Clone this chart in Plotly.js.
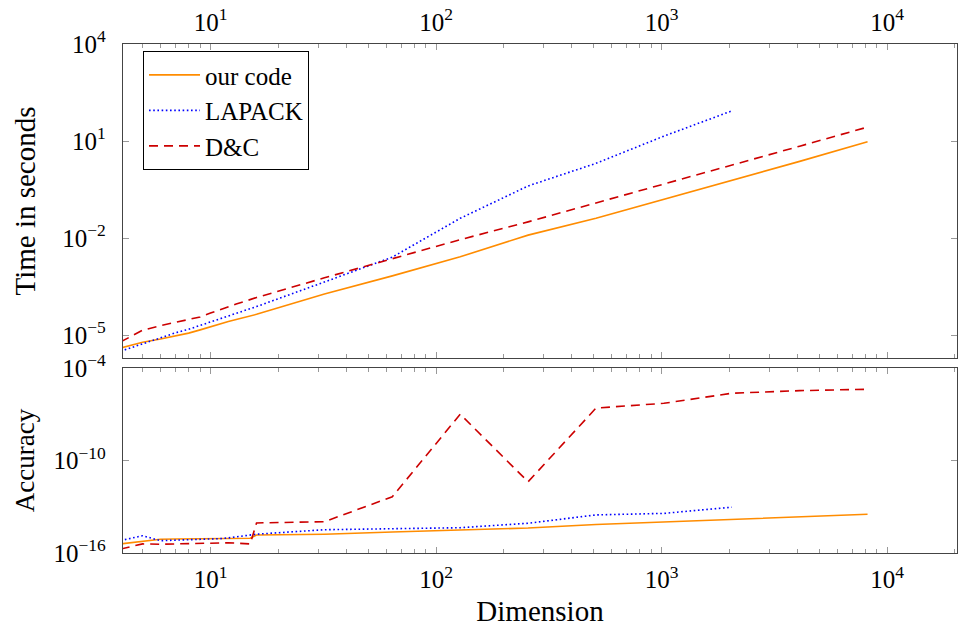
<!DOCTYPE html>
<html>
<head>
<meta charset="utf-8">
<script src="https://cdn.plot.ly/plotly-3.0.1.min.js"></script>
<style>html,body{margin:0;padding:0;background:#fff;}#chart{width:958px;height:630px;}</style>
</head>
<body>
<div id="chart"></div>
<script>
// Dimensions
const dimsLong = [4,5,6,7,8,9,10,11,12,13,14,15,16,32,64,128,256,512,1024,2048,4096,8192];
const dimsLapack = [4,5,6,7,8,9,10,11,12,13,14,15,16,32,64,128,256,512,1024,2048];

// Time in seconds (log10 values)
const timeOurLog = [-5.40,-5.22,-5.12,-5.03,-4.94,-4.84,-4.74,-4.66,-4.58,-4.52,-4.46,-4.41,-4.36,-3.73,-3.17,-2.58,-1.91,-1.39,-0.81,-0.23,0.37,0.98];
const timeLapackLog = [-5.50,-5.27,-5.08,-4.93,-4.82,-4.71,-4.59,-4.50,-4.41,-4.33,-4.25,-4.18,-4.12,-3.36,-2.59,-1.39,-0.39,0.31,1.15,1.93];
const timeDCLog = [-5.21,-4.85,-4.71,-4.61,-4.53,-4.44,-4.32,-4.21,-4.12,-4.04,-3.97,-3.90,-3.84,-3.23,-2.63,-2.05,-1.50,-0.92,-0.34,0.25,0.84,1.43];

// Accuracy (log10 values)
const accOurLog = [-15.41,-15.25,-15.11,-15.09,-15.08,-15.07,-15.06,-15.06,-15.05,-15.05,-15.05,-15.04,-14.83,-14.78,-14.64,-14.49,-14.38,-14.15,-13.99,-13.84,-13.66,-13.49];
const accLapackLog = [-15.19,-14.88,-15.20,-15.17,-15.15,-15.13,-15.11,-15.07,-15.02,-14.96,-14.89,-14.83,-14.78,-14.49,-14.42,-14.36,-14.07,-13.53,-13.43,-13.03];
const accDCLog = [-15.74,-15.41,-15.43,-15.41,-15.38,-15.35,-15.33,-15.33,-15.34,-15.36,-15.38,-15.41,-14.05,-13.97,-12.35,-7.00,-11.38,-6.60,-6.29,-5.64,-5.47,-5.38];

const seriesNames = ['our code','LAPACK','D&C'];

// Tick labels
const xTickVals = [10, 100, 1000, 10000];
const xTickText = ['10<sup>1</sup>','10<sup>2</sup>','10<sup>3</sup>','10<sup>4</sup>'];
const timeTickVals = [1e-5, 1e-2, 1e1, 1e4];
const timeTickText = ['10<sup>−5</sup>','10<sup>−2</sup>','10<sup>1</sup>','10<sup>4</sup>'];
const accTickVals = [1e-16, 1e-10, 1e-4];
const accTickText = ['10<sup>−16</sup>','10<sup>−10</sup>','10<sup>−4</sup>'];

const pow = a => a.map(v => Math.pow(10, v));

const cOur = '#ff8c00', cLap = '#0000ff', cDC = '#cc0000';
const font = 'Liberation Serif, Times New Roman, serif';
const dotted = '1.6px,2.6px', dashed = '9px,6px';

const traces = [
  {x: dimsLong, y: pow(timeOurLog), name: seriesNames[0], xaxis:'x2', yaxis:'y2', mode:'lines', line:{color:cOur, width:1.6}, legendgroup:'a'},
  {x: dimsLapack, y: pow(timeLapackLog), name: seriesNames[1], xaxis:'x2', yaxis:'y2', mode:'lines', line:{color:cLap, width:1.6, dash:dotted}, legendgroup:'b'},
  {x: dimsLong, y: pow(timeDCLog), name: seriesNames[2], xaxis:'x2', yaxis:'y2', mode:'lines', line:{color:cDC, width:1.6, dash:dashed}, legendgroup:'c'},
  {x: dimsLong, y: pow(accOurLog), name: seriesNames[0], xaxis:'x', yaxis:'y', mode:'lines', line:{color:cOur, width:1.6}, showlegend:false},
  {x: dimsLapack, y: pow(accLapackLog), name: seriesNames[1], xaxis:'x', yaxis:'y', mode:'lines', line:{color:cLap, width:1.6, dash:dotted}, showlegend:false},
  {x: dimsLong, y: pow(accDCLog), name: seriesNames[2], xaxis:'x', yaxis:'y', mode:'lines', line:{color:cDC, width:1.6, dash:dashed}, showlegend:false}
];

const axBase = {
  type:'log', showgrid:false, zeroline:false, showline:true, linecolor:'#444', linewidth:1.2,
  mirror:'ticks', ticks:'inside', ticklen:6, tickcolor:'#999', tickwidth:1,
  tickfont:{family:font, size:25, color:'#000'}
};
const xMinor = {ticks:'inside', ticklen:4, tickcolor:'#999', dtick:'D1'};

const layout = {
  width:958, height:630,
  margin:{l:123, r:1, t:44, b:77},
  paper_bgcolor:'#fff', plot_bgcolor:'#fff',
  font:{family:font, color:'#000'},
  showlegend:true,
  legend:{x:0.024, y:0.986, xanchor:'left', yanchor:'top', bordercolor:'#000', borderwidth:1, bgcolor:'#fff',
          font:{family:font, size:25}, traceorder:'grouped', tracegroupgap:0, itemwidth:51},
  xaxis: Object.assign({}, axBase, {domain:[0,1], anchor:'y', range:[0.612, 4.31], side:'bottom',
          tickmode:'array', tickvals:xTickVals, ticktext:xTickText, minor:xMinor, ticklabelstandoff:4,
          title:{text:'Dimension', font:{family:font, size:29}, standoff:8}}),
  xaxis2: Object.assign({}, axBase, {domain:[0,1], anchor:'y2', matches:'x', range:[0.612, 4.31], side:'top',
          tickmode:'array', tickvals:xTickVals, ticktext:xTickText, minor:xMinor, ticklabelstandoff:2}),
  yaxis: Object.assign({}, axBase, {domain:[0,0.3635], anchor:'x', range:[-16,-4],
          tickmode:'array', tickvals:accTickVals, ticktext:accTickText, ticklabelstandoff:11,
          title:{text:'Accuracy', font:{family:font, size:27}, standoff:11}}),
  yaxis2: Object.assign({}, axBase, {domain:[0.3831,1], anchor:'x2', range:[-5.71,4],
          tickmode:'array', tickvals:timeTickVals, ticktext:timeTickText, ticklabelstandoff:11,
          title:{text:'Time in seconds', font:{family:font, size:29}, standoff:18}})
};

Plotly.newPlot('chart', traces, layout, {staticPlot:true, displayModeBar:false});
</script>
</body>
</html>
